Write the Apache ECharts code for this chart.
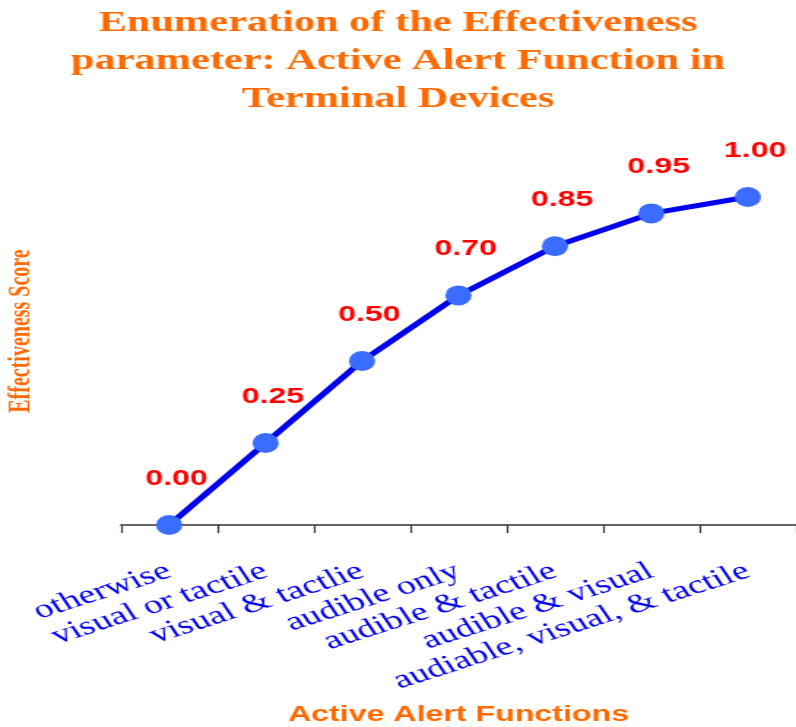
<!DOCTYPE html>
<html>
<head>
<meta charset="utf-8">
<script src="https://cdn.jsdelivr.net/npm/echarts@6/dist/echarts.min.js"></script>
<style>
  html, body { margin: 0; padding: 0; background: #ffffff; overflow: hidden; }
  #wrap { width: 796px; height: 727px; overflow: hidden; position: relative; }
  #chart { width: 545px; height: 727px; transform: scaleX(1.4606); transform-origin: 0 0; }
</style>
</head>
<body>
<div id="wrap"><div id="chart"></div></div>
<script>
const titleText = 'Enumeration of the Effectiveness\nparameter: Active Alert Function in\nTerminal Devices';
const xAxisName = 'Active Alert Functions';
const yAxisName = 'Effectiveness Score';
const categories = [
  'otherwise',
  'visual or tactile',
  'visual & tactlie',
  'audible only',
  'audible & tactile',
  'audible & visual',
  'audiable, visual, & tactile'
];
const scores = [0.00, 0.25, 0.50, 0.70, 0.85, 0.95, 1.00];

const orange = '#ff6a00';
const chart = echarts.init(document.getElementById('chart'), null, { renderer: 'canvas' });
chart.setOption({
  backgroundColor: '#ffffff',
  animation: false,
  title: {
    text: titleText,
    left: 'center',
    top: 0,
    textStyle: {
      fontFamily: '"Liberation Serif", "Times New Roman", serif',
      fontWeight: 'bold',
      fontSize: 29,
      lineHeight: 38,
      color: orange
    }
  },
  graphic: [{
    type: 'text',
    x: 15,
    y: 331,
    rotation: Math.PI / 2,
    style: {
      text: yAxisName,
      fill: orange,
      font: 'bold 20px "Liberation Serif", "Times New Roman", serif',
      align: 'center',
      verticalAlign: 'middle',
      textAlign: 'center',
      textVerticalAlign: 'middle'
    }
  }],
  grid: { left: 82.8, right: -1.2, top: 197, bottom: 202, containLabel: false },
  xAxis: {
    type: 'category',
    data: categories,
    boundaryGap: true,
    name: xAxisName,
    nameLocation: 'middle',
    nameGap: 179,
    nameTextStyle: {
      fontFamily: '"Liberation Sans", Arial, sans-serif',
      fontWeight: 'bold',
      fontSize: 22,
      color: orange
    },
    axisLine: { show: true, lineStyle: { color: '#333333', width: 1.5 } },
    axisTick: { show: true, length: 8, alignWithLabel: false, lineStyle: { color: '#333333', width: 1.2 } },
    axisLabel: {
      interval: 0,
      rotate: 25,
      margin: 45,
      fontSize: 26,
      fontFamily: '"Liberation Serif", "Times New Roman", serif',
      color: '#0000ee'
    },
    splitLine: { show: false }
  },
  yAxis: {
    type: 'value',
    min: 0,
    max: 1,
    show: false,
    splitLine: { show: false }
  },
  series: [{
    type: 'line',
    data: scores,
    symbol: 'circle',
    symbolSize: [18, 20],
    lineStyle: { color: '#0000ee', width: 5 },
    itemStyle: { color: '#3a6cff', borderWidth: 0 },
    label: {
      show: true,
      position: 'top',
      distance: 25,
      offset: [5, 0],
      formatter: p => p.value.toFixed(2),
      fontFamily: '"Liberation Sans", Arial, sans-serif',
      fontWeight: 'bold',
      fontSize: 22,
      color: '#ff0000'
    },
    z: 3
  }]
});
</script>
</body>
</html>
